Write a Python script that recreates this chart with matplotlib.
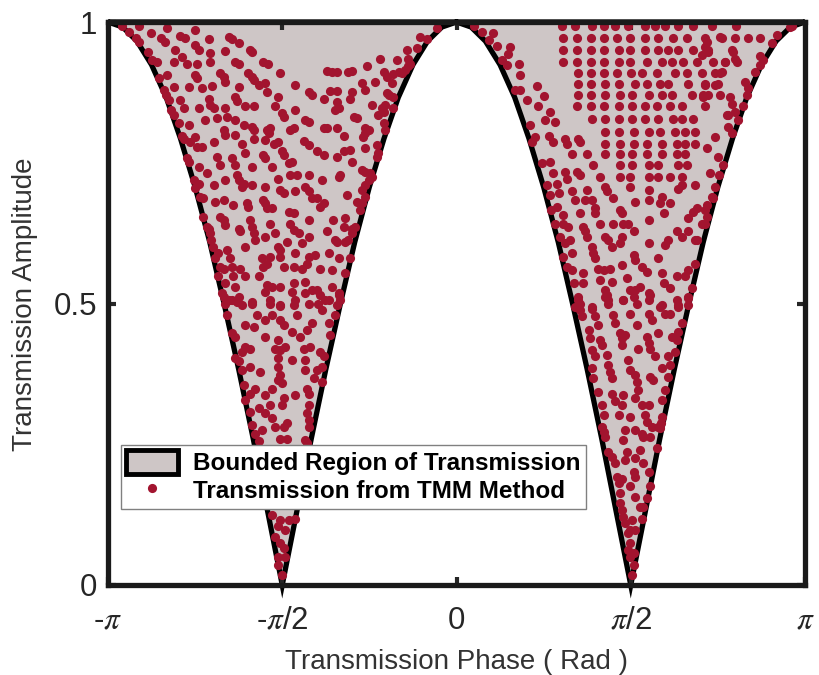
"""
Transmission amplitude vs. phase: bounded region and TMM samples
"""

import numpy as np
from matplotlib import pyplot as plt
from matplotlib.patches import Patch
from matplotlib.lines import Line2D

# ---- bounded region (phase in units of pi) ----
bound_phase = [
    -1.000, -0.958, -0.917, -0.875, -0.833, -0.792, -0.750, -0.708, -0.667,
    -0.625, -0.583, -0.542, -0.500, -0.458, -0.417, -0.375, -0.333, -0.292,
    -0.250, -0.208, -0.167, -0.125, -0.083, -0.042, 0.000, 0.042, 0.083,
    0.125, 0.167, 0.208, 0.250, 0.292, 0.333, 0.375, 0.417, 0.458, 0.500,
    0.542, 0.583, 0.625, 0.667, 0.708, 0.750, 0.792, 0.833, 0.875, 0.917,
    0.958, 1.000,
]
bound_amp = [
    1.000, 0.991, 0.966, 0.924, 0.866, 0.793, 0.707, 0.609, 0.500,
    0.383, 0.259, 0.131, 0.000, 0.131, 0.259, 0.383, 0.500, 0.609,
    0.707, 0.793, 0.866, 0.924, 0.966, 0.991, 1.000, 0.991, 0.966,
    0.924, 0.866, 0.793, 0.707, 0.609, 0.500, 0.383, 0.259, 0.131, 0.000,
    0.131, 0.259, 0.383, 0.500, 0.609, 0.707, 0.793, 0.866, 0.924, 0.966,
    0.991, 1.000,
]

# ---- TMM samples: (phase / pi, amplitude) ----
left_upper = [
    (-0.960, 0.993), (-0.940, 0.982), (-0.910, 0.993), (-0.876, 0.981), (-0.831, 0.989),
    (-0.920, 0.971), (-0.912, 0.965), (-0.847, 0.971), (-0.836, 0.965), (-0.793, 0.975),
    (-0.780, 0.971), (-0.751, 0.985), (-0.711, 0.969), (-0.652, 0.973), (-0.644, 0.969),
    (-0.625, 0.962), (-0.592, 0.950), (-0.587, 0.947), (-0.056, 0.990), (-0.104, 0.974),
    (-0.085, 0.969), (-0.142, 0.951), (-0.114, 0.953),
    (-0.885, 0.947), (-0.874, 0.932), (-0.859, 0.929), (-0.809, 0.951), (-0.788, 0.938),
    (-0.773, 0.926), (-0.750, 0.959), (-0.740, 0.951), (-0.706, 0.945), (-0.665, 0.949),
    (-0.706, 0.929), (-0.745, 0.926), (-0.812, 0.929), (-0.635, 0.929), (-0.625, 0.926),
    (-0.554, 0.929), (-0.541, 0.926), (-0.506, 0.909), (-0.372, 0.913), (-0.358, 0.912),
    (-0.343, 0.912), (-0.310, 0.912), (-0.300, 0.913), (-0.257, 0.921), (-0.219, 0.934),
    (-0.171, 0.932), (-0.138, 0.935), (-0.133, 0.926),
    (-0.831, 0.906), (-0.855, 0.900), (-0.750, 0.906), (-0.745, 0.900), (-0.678, 0.909),
    (-0.668, 0.903), (-0.663, 0.894), (-0.597, 0.909), (-0.587, 0.903), (-0.582, 0.897),
    (-0.568, 0.888), (-0.549, 0.892), (-0.463, 0.888), (-0.424, 0.876), (-0.415, 0.870),
    (-0.362, 0.878), (-0.343, 0.878), (-0.272, 0.892), (-0.233, 0.894), (-0.209, 0.912),
    (-0.200, 0.903), (-0.181, 0.908), (-0.166, 0.912), (-0.157, 0.909), (-0.147, 0.915),
    (-0.138, 0.921),
    (-0.840, 0.879), (-0.812, 0.884), (-0.769, 0.884), (-0.730, 0.882), (-0.702, 0.886),
    (-0.625, 0.885), (-0.544, 0.876), (-0.511, 0.866), (-0.381, 0.863), (-0.305, 0.864),
    (-0.300, 0.876), (-0.262, 0.879), (-0.185, 0.891), (-0.195, 0.870), (-0.200, 0.874),
    (-0.834, 0.870), (-0.826, 0.861), (-0.793, 0.861), (-0.783, 0.847), (-0.740, 0.847),
    (-0.711, 0.864), (-0.706, 0.852), (-0.697, 0.847), (-0.663, 0.847), (-0.635, 0.866),
    (-0.630, 0.860), (-0.606, 0.850), (-0.582, 0.850), (-0.520, 0.850), (-0.501, 0.838),
    (-0.496, 0.832), (-0.463, 0.844), (-0.434, 0.826), (-0.424, 0.823), (-0.343, 0.858),
    (-0.338, 0.847), (-0.348, 0.844), (-0.295, 0.831), (-0.243, 0.852), (-0.214, 0.847),
    (-0.205, 0.852), (-0.209, 0.841), (-0.224, 0.835), (-0.181, 0.847), (-0.181, 0.867),
    (-0.818, 0.844), (-0.812, 0.835), (-0.797, 0.820), (-0.769, 0.817), (-0.721, 0.826),
    (-0.687, 0.829), (-0.659, 0.832), (-0.635, 0.826), (-0.611, 0.817), (-0.587, 0.814),
    (-0.582, 0.808), (-0.534, 0.811), (-0.477, 0.808), (-0.467, 0.811), (-0.381, 0.811),
    (-0.372, 0.811), (-0.343, 0.811), (-0.286, 0.829), (-0.262, 0.811), (-0.252, 0.808),
    (-0.262, 0.802), (-0.267, 0.796), (-0.209, 0.820), (-0.205, 0.808), (-0.324, 0.797),
    (-0.788, 0.797), (-0.783, 0.793), (-0.764, 0.786), (-0.750, 0.796), (-0.745, 0.778),
    (-0.730, 0.778), (-0.697, 0.787), (-0.668, 0.808), (-0.663, 0.799), (-0.635, 0.799),
    (-0.616, 0.784), (-0.582, 0.793), (-0.544, 0.808), (-0.539, 0.802), (-0.549, 0.790),
    (-0.525, 0.784), (-0.511, 0.787), (-0.501, 0.770), (-0.496, 0.764), (-0.439, 0.789),
    (-0.424, 0.781), (-0.401, 0.770), (-0.381, 0.764), (-0.343, 0.761), (-0.324, 0.770),
    (-0.305, 0.773), (-0.300, 0.752), (-0.262, 0.776), (-0.228, 0.781), (-0.224, 0.767),
    (-0.228, 0.761),
    (-0.773, 0.758), (-0.769, 0.752), (-0.740, 0.743), (-0.687, 0.761), (-0.678, 0.746),
    (-0.644, 0.758), (-0.635, 0.746), (-0.606, 0.767), (-0.587, 0.743), (-0.554, 0.764),
    (-0.549, 0.758), (-0.530, 0.743), (-0.482, 0.749), (-0.472, 0.752), (-0.477, 0.728),
    (-0.458, 0.728), (-0.424, 0.728), (-0.386, 0.719), (-0.338, 0.725), (-0.334, 0.728),
    (-0.272, 0.737), (-0.262, 0.734), (-0.248, 0.731), (-0.252, 0.719),
    (-0.752, 0.719), (-0.750, 0.706), (-0.740, 0.712), (-0.716, 0.731), (-0.697, 0.710),
    (-0.663, 0.719), (-0.630, 0.728), (-0.625, 0.719), (-0.616, 0.707), (-0.611, 0.713),
    (-0.587, 0.710), (-0.549, 0.707), (-0.511, 0.722), (-0.506, 0.702), (-0.496, 0.697),
    (-0.463, 0.699), (-0.434, 0.707), (-0.424, 0.699), (-0.415, 0.687), (-0.401, 0.687),
    (-0.381, 0.678), (-0.315, 0.693), (-0.286, 0.681), (-0.262, 0.690), (-0.272, 0.702),
    (-0.262, 0.710), (-0.243, 0.725),
    (-0.735, 0.690), (-0.726, 0.687), (-0.692, 0.681), (-0.668, 0.684), (-0.640, 0.675),
    (-0.601, 0.678), (-0.597, 0.672), (-0.554, 0.684), (-0.549, 0.678), (-0.544, 0.669),
    (-0.530, 0.669), (-0.482, 0.663), (-0.467, 0.660), (-0.424, 0.648), (-0.391, 0.672),
    (-0.353, 0.648), (-0.319, 0.651), (-0.276, 0.666), (-0.272, 0.678),
    (-0.726, 0.654), (-0.716, 0.636), (-0.711, 0.633), (-0.706, 0.625), (-0.678, 0.654),
    (-0.668, 0.648), (-0.663, 0.639), (-0.625, 0.633), (-0.620, 0.628), (-0.592, 0.648),
    (-0.587, 0.636), (-0.582, 0.625), (-0.534, 0.642), (-0.520, 0.625), (-0.477, 0.642),
    (-0.467, 0.630), (-0.453, 0.625), (-0.424, 0.619), (-0.372, 0.628), (-0.348, 0.613),
    (-0.324, 0.636), (-0.300, 0.633), (-0.291, 0.636), (-0.300, 0.625), (-0.310, 0.613),
    (-0.319, 0.610),
    (-0.705, 0.613), (-0.700, 0.600), (-0.683, 0.589), (-0.659, 0.595), (-0.649, 0.580),
    (-0.606, 0.601), (-0.577, 0.613), (-0.549, 0.619), (-0.511, 0.601), (-0.506, 0.595),
    (-0.487, 0.610), (-0.463, 0.589), (-0.444, 0.607), (-0.424, 0.583), (-0.405, 0.586),
    (-0.367, 0.589), (-0.343, 0.610), (-0.338, 0.580), (-0.305, 0.580),
    (-0.692, 0.580), (-0.678, 0.565), (-0.668, 0.562), (-0.644, 0.565), (-0.620, 0.562),
    (-0.558, 0.580), (-0.554, 0.565), (-0.544, 0.571), (-0.534, 0.583), (-0.506, 0.583),
    (-0.496, 0.565), (-0.467, 0.565), (-0.429, 0.571), (-0.444, 0.562), (-0.391, 0.562),
    (-0.358, 0.559), (-0.319, 0.554),
    (-0.683, 0.548), (-0.663, 0.536), (-0.640, 0.548), (-0.635, 0.530), (-0.606, 0.548),
    (-0.568, 0.548), (-0.544, 0.533), (-0.530, 0.530), (-0.549, 0.521), (-0.506, 0.530),
    (-0.472, 0.521), (-0.467, 0.536), (-0.434, 0.539), (-0.401, 0.524), (-0.391, 0.515),
    (-0.358, 0.530), (-0.338, 0.515), (-0.334, 0.506), (-0.668, 0.512), (-0.654, 0.506),
    (-0.630, 0.503), (-0.587, 0.503), (-0.534, 0.506), (-0.506, 0.497), (-0.463, 0.506),
    (-0.424, 0.500), (-0.367, 0.506),
]

left_lower = [
    (-0.673, 0.518), (-0.664, 0.500), (-0.644, 0.506), (-0.625, 0.512), (-0.616, 0.497),
    (-0.587, 0.500), (-0.573, 0.480), (-0.549, 0.471), (-0.534, 0.500), (-0.530, 0.480),
    (-0.506, 0.496), (-0.506, 0.471), (-0.496, 0.462), (-0.467, 0.497), (-0.458, 0.480),
    (-0.434, 0.518), (-0.415, 0.524), (-0.396, 0.500), (-0.386, 0.488), (-0.377, 0.506),
    (-0.338, 0.518), (-0.343, 0.497), (-0.348, 0.480), (-0.367, 0.465), (-0.362, 0.444),
    (-0.415, 0.465), (-0.429, 0.453), (-0.448, 0.441), (-0.472, 0.450), (-0.511, 0.435),
    (-0.520, 0.420), (-0.506, 0.417), (-0.491, 0.423), (-0.549, 0.441), (-0.582, 0.459),
    (-0.606, 0.462), (-0.644, 0.447), (-0.635, 0.441), (-0.659, 0.480), (-0.606, 0.423),
    (-0.592, 0.420), (-0.616, 0.414), (-0.635, 0.403), (-0.625, 0.397), (-0.616, 0.382),
    (-0.592, 0.388), (-0.563, 0.379), (-0.511, 0.403), (-0.511, 0.388), (-0.506, 0.373),
    (-0.511, 0.364), (-0.501, 0.358), (-0.472, 0.400), (-0.439, 0.420), (-0.420, 0.423),
    (-0.391, 0.414), (-0.381, 0.406), (-0.386, 0.388), (-0.434, 0.400), (-0.434, 0.382),
    (-0.401, 0.382), (-0.410, 0.367), (-0.429, 0.349), (-0.424, 0.340), (-0.386, 0.361),
    (-0.463, 0.337), (-0.496, 0.332), (-0.530, 0.349), (-0.549, 0.337), (-0.577, 0.349),
    (-0.592, 0.340), (-0.611, 0.355), (-0.606, 0.329), (-0.568, 0.314), (-0.534, 0.320),
    (-0.501, 0.320), (-0.424, 0.320), (-0.429, 0.305), (-0.424, 0.293), (-0.424, 0.281),
    (-0.487, 0.287), (-0.496, 0.281), (-0.520, 0.281), (-0.549, 0.305), (-0.530, 0.296),
    (-0.592, 0.308), (-0.587, 0.284), (-0.558, 0.275), (-0.577, 0.269), (-0.506, 0.260),
    (-0.487, 0.260), (-0.434, 0.258), (-0.429, 0.252), (-0.568, 0.255),
    (-0.530, 0.124), (-0.506, 0.115), (-0.482, 0.115), (-0.463, 0.118), (-0.511, 0.104),
    (-0.491, 0.098), (-0.520, 0.086), (-0.506, 0.074), (-0.496, 0.065), (-0.511, 0.050),
    (-0.491, 0.050), (-0.511, 0.036), (-0.501, 0.018),
]

right_grid = [
    (0.302, 0.993), (0.340, 0.993), (0.388, 0.993), (0.422, 0.993), (0.455, 0.993),
    (0.493, 0.993), (0.541, 0.993), (0.570, 0.993), (0.598, 0.993), (0.637, 0.993),
    (0.680, 0.993), (0.732, 0.993), (0.801, 0.993), (0.962, 0.993), (0.049, 0.993),
    (0.307, 0.971), (0.345, 0.971), (0.386, 0.971), (0.424, 0.971), (0.460, 0.971),
    (0.498, 0.971), (0.541, 0.971), (0.579, 0.971), (0.622, 0.971), (0.661, 0.971),
    (0.713, 0.971), (0.761, 0.971), (0.799, 0.971), (0.837, 0.971), (0.871, 0.971),
    (0.307, 0.950), (0.345, 0.950), (0.386, 0.950), (0.422, 0.950), (0.465, 0.950),
    (0.498, 0.950), (0.541, 0.950), (0.579, 0.950), (0.608, 0.950), (0.637, 0.950),
    (0.680, 0.950), (0.723, 0.950), (0.790, 0.950),
    (0.307, 0.929), (0.345, 0.929), (0.386, 0.929), (0.422, 0.929), (0.465, 0.929),
    (0.498, 0.929), (0.546, 0.929), (0.589, 0.929), (0.618, 0.929), (0.651, 0.929),
    (0.689, 0.929), (0.737, 0.929), (0.771, 0.929), (0.804, 0.929),
    (0.350, 0.910), (0.386, 0.910), (0.422, 0.910), (0.460, 0.910), (0.501, 0.910),
    (0.532, 0.910), (0.575, 0.910), (0.627, 0.910), (0.661, 0.910), (0.704, 0.910),
    (0.742, 0.910), (0.756, 0.910),
    (0.350, 0.890), (0.386, 0.890), (0.426, 0.890), (0.465, 0.890), (0.512, 0.890),
    (0.546, 0.890), (0.584, 0.890), (0.608, 0.890), (0.665, 0.890), (0.713, 0.890),
    (0.751, 0.890),
    (0.350, 0.870), (0.386, 0.870), (0.426, 0.870), (0.469, 0.870), (0.503, 0.870),
    (0.551, 0.870), (0.589, 0.870), (0.618, 0.870), (0.675, 0.870), (0.708, 0.870),
    (0.756, 0.870),
    (0.345, 0.850), (0.386, 0.850), (0.422, 0.850), (0.465, 0.850), (0.503, 0.850),
    (0.541, 0.850), (0.575, 0.850), (0.613, 0.850), (0.646, 0.850), (0.713, 0.850),
    (0.388, 0.827), (0.426, 0.827), (0.465, 0.827), (0.503, 0.827), (0.541, 0.827),
    (0.579, 0.827), (0.622, 0.827), (0.646, 0.827), (0.680, 0.827),
    (0.426, 0.805), (0.465, 0.805), (0.508, 0.805), (0.551, 0.805), (0.584, 0.805),
    (0.627, 0.805), (0.656, 0.805), (0.684, 0.805),
    (0.426, 0.784), (0.469, 0.784), (0.508, 0.784), (0.546, 0.784), (0.589, 0.784),
    (0.632, 0.784), (0.656, 0.784), (0.684, 0.784),
    (0.426, 0.765), (0.469, 0.765), (0.503, 0.765), (0.546, 0.765), (0.589, 0.765),
    (0.632, 0.765), (0.656, 0.765),
    (0.469, 0.746), (0.503, 0.746), (0.551, 0.746), (0.579, 0.746), (0.637, 0.746),
    (0.661, 0.746),
    (0.469, 0.725), (0.498, 0.725), (0.551, 0.725), (0.579, 0.725), (0.613, 0.725),
    (0.646, 0.725),
]

right_upper = [
    (0.073, 0.983), (0.092, 0.968), (0.106, 0.980), (0.116, 0.957), (0.130, 0.932),
    (0.144, 0.924), (0.154, 0.955), (0.149, 0.944), (0.178, 0.926), (0.183, 0.906),
    (0.168, 0.879), (0.183, 0.879), (0.202, 0.861), (0.230, 0.886), (0.250, 0.868),
    (0.235, 0.850), (0.269, 0.841), (0.254, 0.826), (0.283, 0.823), (0.211, 0.817),
    (0.226, 0.796), (0.216, 0.787), (0.264, 0.797), (0.278, 0.787), (0.312, 0.793),
    (0.316, 0.784), (0.350, 0.793), (0.355, 0.787), (0.331, 0.765), (0.374, 0.765),
    (0.393, 0.746), (0.412, 0.725), (0.245, 0.749), (0.269, 0.752), (0.278, 0.731),
    (0.259, 0.710), (0.288, 0.713), (0.312, 0.734), (0.316, 0.722), (0.345, 0.734),
    (0.355, 0.728), (0.374, 0.702), (0.269, 0.693), (0.293, 0.696), (0.331, 0.699),
    (0.340, 0.684), (0.369, 0.684), (0.388, 0.684), (0.398, 0.669), (0.398, 0.660),
    (0.288, 0.672), (0.307, 0.657), (0.355, 0.660), (0.426, 0.707), (0.431, 0.699),
    (0.450, 0.687), (0.469, 0.666), (0.474, 0.660), (0.498, 0.707), (0.512, 0.681),
    (0.551, 0.702), (0.551, 0.684), (0.551, 0.648), (0.589, 0.690), (0.584, 0.678),
    (0.594, 0.661), (0.613, 0.678), (0.637, 0.704), (0.646, 0.710), (0.684, 0.710),
    (0.689, 0.669), (0.680, 0.663), (0.665, 0.651), (0.713, 0.642), (0.732, 0.690),
    (0.718, 0.654),
    (0.957, 0.992), (0.919, 0.977), (0.904, 0.962), (0.880, 0.932), (0.871, 0.940),
    (0.872, 0.924), (0.857, 0.912), (0.828, 0.894), (0.837, 0.882), (0.833, 0.870),
    (0.823, 0.850), (0.790, 0.855), (0.799, 0.841), (0.775, 0.835), (0.809, 0.826),
    (0.780, 0.814), (0.790, 0.802), (0.742, 0.796), (0.718, 0.776), (0.751, 0.761),
    (0.766, 0.746), (0.728, 0.731), (0.753, 0.728), (0.742, 0.707), (0.737, 0.687),
    (0.718, 0.675), (0.713, 0.666), (0.704, 0.642), (0.684, 0.613),
    (0.794, 0.947), (0.799, 0.935), (0.771, 0.929), (0.713, 0.956), (0.756, 0.974),
    (0.718, 0.965), (0.723, 0.947), (0.704, 0.941), (0.761, 0.912), (0.713, 0.888),
    (0.742, 0.888), (0.723, 0.870), (0.708, 0.867), (0.785, 0.867), (0.780, 0.835),
    (0.270, 0.666), (0.283, 0.642), (0.307, 0.642), (0.321, 0.636), (0.297, 0.619),
    (0.312, 0.607), (0.326, 0.613), (0.331, 0.589), (0.307, 0.583), (0.316, 0.565),
    (0.331, 0.559), (0.364, 0.636), (0.369, 0.628), (0.374, 0.619), (0.412, 0.642),
    (0.426, 0.619), (0.436, 0.613), (0.450, 0.642), (0.479, 0.642), (0.493, 0.642),
    (0.445, 0.601), (0.474, 0.619), (0.469, 0.607), (0.388, 0.601), (0.393, 0.589),
    (0.398, 0.580), (0.508, 0.628), (0.551, 0.607), (0.598, 0.604), (0.608, 0.613),
    (0.632, 0.628), (0.646, 0.619), (0.665, 0.628), (0.689, 0.613), (0.579, 0.580),
    (0.508, 0.586), (0.532, 0.565), (0.546, 0.556), (0.512, 0.577), (0.474, 0.568),
    (0.441, 0.562), (0.422, 0.559), (0.407, 0.562), (0.364, 0.554), (0.336, 0.536),
    (0.364, 0.536), (0.412, 0.542), (0.445, 0.539), (0.489, 0.545), (0.527, 0.530),
    (0.555, 0.515), (0.589, 0.554), (0.594, 0.536), (0.632, 0.548), (0.656, 0.548),
    (0.665, 0.559), (0.684, 0.571), (0.675, 0.527), (0.665, 0.512), (0.613, 0.527),
    (0.589, 0.497), (0.551, 0.506), (0.512, 0.524), (0.508, 0.512), (0.426, 0.524),
    (0.431, 0.515), (0.436, 0.506), (0.479, 0.506), (0.350, 0.512), (0.355, 0.500),
    (0.388, 0.494), (0.340, 0.494), (0.637, 0.497),
]

right_lower = [
    (0.350, 0.506), (0.355, 0.488), (0.359, 0.477), (0.388, 0.491), (0.398, 0.477),
    (0.407, 0.462), (0.426, 0.512), (0.436, 0.500), (0.450, 0.480), (0.455, 0.465),
    (0.479, 0.506), (0.498, 0.524), (0.498, 0.482), (0.517, 0.500), (0.517, 0.462),
    (0.551, 0.518), (0.551, 0.482), (0.560, 0.470), (0.584, 0.494), (0.598, 0.482),
    (0.613, 0.482), (0.632, 0.506), (0.637, 0.494), (0.665, 0.497), (0.665, 0.509),
    (0.646, 0.465), (0.637, 0.450), (0.632, 0.435), (0.627, 0.414), (0.613, 0.391),
    (0.608, 0.370), (0.598, 0.346), (0.589, 0.329), (0.589, 0.299), (0.587, 0.287),
    (0.584, 0.278), (0.579, 0.281), (0.560, 0.281), (0.555, 0.263), (0.575, 0.243),
    (0.551, 0.201), (0.555, 0.175), (0.546, 0.154), (0.536, 0.139), (0.533, 0.118),
    (0.527, 0.139), (0.512, 0.192), (0.498, 0.175), (0.512, 0.157), (0.503, 0.115),
    (0.498, 0.098), (0.512, 0.098), (0.498, 0.074), (0.508, 0.056), (0.498, 0.050),
    (0.508, 0.036), (0.503, 0.018), (0.493, 0.062),
    (0.379, 0.453), (0.383, 0.438), (0.412, 0.435), (0.417, 0.426), (0.388, 0.417),
    (0.398, 0.406), (0.388, 0.385), (0.393, 0.367), (0.407, 0.343), (0.417, 0.320),
    (0.422, 0.302), (0.417, 0.281), (0.422, 0.272), (0.426, 0.263), (0.436, 0.237),
    (0.445, 0.228), (0.455, 0.216), (0.460, 0.192), (0.465, 0.181), (0.469, 0.163),
    (0.469, 0.145), (0.474, 0.133), (0.479, 0.121), (0.484, 0.110), (0.493, 0.092),
    (0.431, 0.408), (0.436, 0.391), (0.441, 0.379), (0.445, 0.367), (0.469, 0.447),
    (0.474, 0.438), (0.474, 0.426), (0.484, 0.444), (0.493, 0.400), (0.498, 0.382),
    (0.512, 0.373), (0.517, 0.361), (0.522, 0.346), (0.512, 0.332), (0.522, 0.420),
    (0.546, 0.441), (0.551, 0.429), (0.555, 0.420), (0.570, 0.406), (0.555, 0.370),
    (0.565, 0.364), (0.589, 0.385), (0.608, 0.406), (0.618, 0.441), (0.579, 0.447),
    (0.532, 0.320), (0.551, 0.320), (0.541, 0.302), (0.548, 0.290), (0.536, 0.263),
    (0.512, 0.275), (0.498, 0.299), (0.465, 0.302), (0.474, 0.320), (0.455, 0.326),
    (0.479, 0.337), (0.445, 0.340), (0.484, 0.275), (0.479, 0.258), (0.489, 0.237),
    (0.484, 0.222), (0.512, 0.225), (0.527, 0.240), (0.536, 0.216), (0.508, 0.201),
    (0.474, 0.189), (0.532, 0.269),
]

fill_color = "#cec6c6"
dot_color = "#a2142f"
text_color = "#262626"

plt.rcParams["font.family"] = ["Liberation Sans", "DejaVu Sans"]
plt.rcParams["mathtext.fontset"] = "stix"

fig = plt.figure(figsize=(8.19, 6.75), dpi=100)
ax = fig.add_axes([108 / 819, 90 / 675, 697 / 819, 563 / 675])

# bounded region
bx = np.array(bound_phase) * np.pi
by = np.array(bound_amp)
ax.fill(bx, by, facecolor=fill_color, edgecolor="black", linewidth=3.8,
        joinstyle="miter", zorder=1, clip_on=False)

# TMM samples
samples = np.array(left_upper + left_lower + right_grid + right_upper + right_lower)
ax.plot(samples[:, 0] * np.pi, samples[:, 1], "o", color=dot_color,
        markersize=6.6, markeredgewidth=0, linestyle="none", zorder=2)

ax.set_xlim(-np.pi, np.pi)
ax.set_ylim(0, 1)

ax.set_xticks([-np.pi, -np.pi / 2, 0, np.pi / 2, np.pi])
ax.set_xticklabels([r"-$\pi$", r"-$\pi$/2", "0", r"$\pi$/2", r"$\pi$"])
ax.set_yticks([0, 0.5, 1])
ax.set_yticklabels(["0", "0.5", "1"])
ax.tick_params(direction="in", length=6, width=3, top=True, right=True,
               labelsize=22.5, colors=text_color)
ax.tick_params(axis="x", pad=15)
ax.tick_params(axis="y", pad=8)

for side in ["left", "right", "top", "bottom"]:
    ax.spines[side].set_linewidth(3.8)
    ax.spines[side].set_color("#1a1a1a")

ax.set_xlabel("Transmission Phase ( Rad )", fontsize=20, color="#333333",
              va="center")
ax.xaxis.set_label_coords(0.5, -0.136)
ax.set_ylabel("Transmission Amplitude", fontsize=20, color="#333333",
              va="center", ha="center")
ax.yaxis.set_label_coords(-0.119, 0.499)

# legend
handles = [
    Patch(facecolor=fill_color, edgecolor="black", linewidth=3.5),
    Line2D([], [], marker="o", color=dot_color, markersize=6.6,
           markeredgewidth=0, linestyle="none"),
]
labels = ["Bounded Region of Transmission", "Transmission from TMM Method"]
leg = ax.legend(
    handles, labels,
    loc="upper left",
    bbox_to_anchor=(0.0187, 0.2487),
    borderaxespad=0,
    prop={"weight": "bold", "size": 17.5},
    handlelength=2.14,
    handleheight=1.11,
    handletextpad=0.62,
    borderpad=0.22,
    labelspacing=0.12,
    fancybox=False,
    framealpha=1,
    edgecolor="#808080",
    numpoints=1,
)
leg.get_frame().set_linewidth(1.0)
leg.set_zorder(5)

fig.savefig("out.png", dpi=100, facecolor="white")
